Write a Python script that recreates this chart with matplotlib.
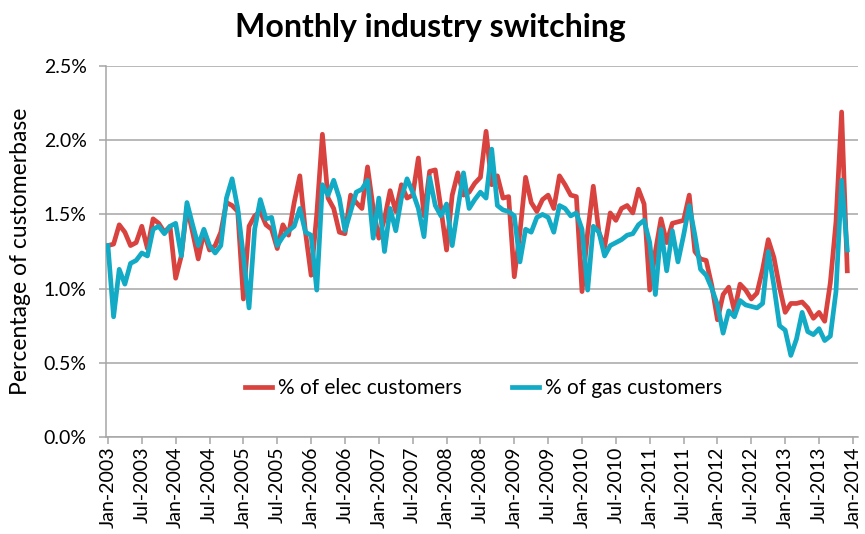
import numpy as np
from matplotlib import pyplot as plt

# monthly values, Jan-2003 .. Dec-2013 (% of customer base)
elec_pct = [
    1.29, 1.30, 1.43, 1.38, 1.29, 1.31, 1.42, 1.27, 1.47, 1.44, 1.38, 1.42,
    1.07, 1.22, 1.55, 1.38, 1.20, 1.38, 1.26, 1.29, 1.38, 1.58, 1.56, 1.52,
    0.93, 1.42, 1.49, 1.52, 1.43, 1.40, 1.27, 1.43, 1.36, 1.58, 1.76, 1.38,
    1.09, 1.50, 2.04, 1.61, 1.54, 1.38, 1.37, 1.63, 1.58, 1.54, 1.82, 1.54,
    1.34, 1.47, 1.66, 1.52, 1.70, 1.61, 1.63, 1.88, 1.49, 1.79, 1.80, 1.54,
    1.26, 1.63, 1.78, 1.63, 1.65, 1.71, 1.75, 2.06, 1.70, 1.76, 1.61, 1.62,
    1.08, 1.38, 1.75, 1.58, 1.52, 1.60, 1.63, 1.54, 1.76, 1.70, 1.63, 1.62,
    0.98, 1.38, 1.69, 1.38, 1.28, 1.51, 1.46, 1.54, 1.56, 1.51, 1.67, 1.57,
    0.99, 1.25, 1.47, 1.31, 1.44, 1.45, 1.46, 1.63, 1.25, 1.20, 1.19, 1.02,
    0.79, 0.96, 1.01, 0.85, 1.03, 0.99, 0.93, 0.97, 1.13, 1.33, 1.21, 1.01,
    0.84, 0.90, 0.90, 0.91, 0.87, 0.80, 0.84, 0.78, 1.04, 1.45, 2.19, 1.12,
]
gas_pct = [
    1.29, 0.81, 1.13, 1.03, 1.17, 1.19, 1.24, 1.22, 1.40, 1.42, 1.37, 1.42,
    1.44, 1.22, 1.58, 1.43, 1.29, 1.40, 1.29, 1.24, 1.29, 1.61, 1.74, 1.54,
    1.22, 0.87, 1.40, 1.60, 1.47, 1.48, 1.29, 1.35, 1.39, 1.42, 1.54, 1.38,
    1.36, 0.99, 1.70, 1.63, 1.73, 1.61, 1.39, 1.52, 1.65, 1.67, 1.73, 1.34,
    1.61, 1.25, 1.54, 1.39, 1.61, 1.74, 1.65, 1.54, 1.35, 1.75, 1.56, 1.49,
    1.57, 1.29, 1.54, 1.78, 1.54, 1.60, 1.65, 1.61, 1.94, 1.56, 1.53, 1.52,
    1.49, 1.18, 1.40, 1.38, 1.48, 1.50, 1.48, 1.38, 1.56, 1.54, 1.49, 1.51,
    1.40, 0.99, 1.42, 1.38, 1.22, 1.29, 1.31, 1.33, 1.36, 1.37, 1.43, 1.46,
    1.31, 0.96, 1.40, 1.12, 1.39, 1.18, 1.36, 1.56, 1.36, 1.13, 1.09, 1.00,
    0.89, 0.70, 0.85, 0.81, 0.92, 0.89, 0.88, 0.87, 0.90, 1.25, 1.02, 0.75,
    0.72, 0.55, 0.66, 0.84, 0.71, 0.69, 0.73, 0.65, 0.68, 0.98, 1.73, 1.26,
]

tick_labels = []
for year in range(2003, 2014):
    tick_labels += [f"Jan-{year}", f"Jul-{year}"]
tick_labels.append("Jan-2014")

y_ticks = [0.0, 0.5, 1.0, 1.5, 2.0, 2.5]

RED = "#D8433F"
BLUE = "#12AAC4"
GRID = "#A6A6A6"

plt.rcParams["font.family"] = ["Lato", "DejaVu Sans"]

fig = plt.figure(figsize=(8.65, 5.34), dpi=100)
ax = fig.add_axes([0.1225, 0.1816, 0.8694, 0.6948])

months = np.arange(len(elec_pct))
ax.plot(months, elec_pct, color=RED, linewidth=3.4, label="% of elec customers",
        solid_joinstyle="round", zorder=3)
ax.plot(months, gas_pct, color=BLUE, linewidth=3.4, label="% of gas customers",
        solid_joinstyle="round", zorder=4)

ax.set_xlim(-0.35, 132.9)
ax.set_ylim(0, 2.5)

ax.set_xticks(np.arange(0, 133, 6))
ax.set_xticklabels(tick_labels, rotation=90, fontsize=14)
ax.set_yticks(y_ticks)
ax.set_yticklabels([f"{v:.1f}%" for v in y_ticks], fontsize=14)

ax.yaxis.grid(True, color=GRID, linewidth=1.1)
ax.set_axisbelow(True)
for side in ["top", "right"]:
    ax.spines[side].set_visible(False)
for side in ["left", "bottom"]:
    ax.spines[side].set_color(GRID)
    ax.spines[side].set_linewidth(1.1)
ax.tick_params(axis="x", direction="out", length=5, width=1.1, color=GRID, pad=2)
ax.tick_params(axis="y", direction="out", length=5, width=1.1, color=GRID, pad=9)

ax.legend(loc="center", bbox_to_anchor=(0.502, 0.132), ncol=2, frameon=False,
          fontsize=15, handlelength=1.3, handletextpad=0.3, columnspacing=2.4)

fig.text(0.498, 0.948, "Monthly industry switching", ha="center", va="center",
         fontsize=23, fontweight="bold")
fig.text(0.024, 0.53, "Percentage of customerbase", ha="center", va="center",
         rotation=90, fontsize=16.5)

fig.savefig("out.png", dpi=100)
